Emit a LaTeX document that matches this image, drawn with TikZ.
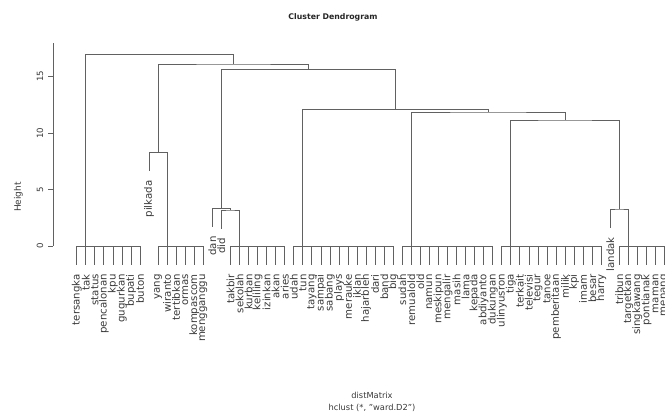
\documentclass[tikz,border=0pt]{standalone}
\usepackage{fontspec}
\setmainfont{DejaVu Sans}
\begin{document}
\begin{tikzpicture}[x=1pt,y=-1pt,
  dline/.style={draw=black!62, line width=0.75pt},
  leaflbl/.style={rotate=90, anchor=east, inner sep=0pt, text=black!78, font=\fontsize{10.2}{10.2}\selectfont},
  axlbl/.style={rotate=90, inner sep=0pt, text=black!78, font=\fontsize{8.6}{8.6}\selectfont},
  titlelbl/.style={inner sep=0pt, text=black!85, font=\bfseries\fontsize{7.8}{7.8}\selectfont},
  sublbl/.style={inner sep=0pt, text=black!78, font=\fontsize{8.3}{8.3}\selectfont}]
\useasboundingbox (0,0) rectangle (665,415);

% leaves: name / top y (merge height of their parent)
\foreach \w/\t [count=\i from 0] in {
  tersangka/246, tak/246, status/246, pencalonan/246, kpu/246, gugurkan/246, bupati/246, buton/246,
  pilkada/152.3,
  yang/246, wiranto/246, tertibkan/246, ormas/246, kompascom/246, mengganggu/246,
  dan/208.3, did/210,
  takbir/246, sekolah/246, kurban/246, keliling/246, izinkan/246, akan/246, aries/246,
  udah/246, tun/246, tayang/246, sampai/246, sabang/246, plays/246, merauke/246, iklan/246, hajarbleh/246, dari/246, band/246, big/246,
  sudah/246, remualold/246, old/246, namun/246, meskipun/246, mengalir/246, masih/246, lama/246, kepada/246, abdiyanto/246, dukungan/246,
  ulinyusron/246, tiga/246, terkait/246, televisi/246, tegur/246, tanoe/246, pemberitaan/246, milik/246, kpi/246, imam/246, besar/246, harry/246,
  landak/209,
  tribun/246, targetkan/246, singkawang/246, pontianak/246, maman/246, menang/246}
{
  \coordinate (T\i) at ({76.7+9.044*\i},\t);
  \coordinate (E\i) at ({76.7+9.044*\i},\t+19);
  \draw[dline] (T\i) -- (E\i);
  \node[leaflbl] (N\i) at ({76.7+9.044*\i},\t+28) {\w};
}

% groups merged at height 0
\draw[dline] (T0) -- (T7);
\draw[dline] (T9) -- (T14);
\draw[dline] (T17) -- (T23);
\draw[dline] (T24) -- (T35);
\draw[dline] (T36) -- (T46);
\draw[dline] (T47) -- (T58);
\draw[dline] (T60) -- (T65);

% merge points
\coordinate (P)  at (158.1,152.3);
\coordinate (D1) at (230.45,210);
\coordinate (D2) at (221.4,208.3);
\coordinate (Z)  at (619.34,209);
\coordinate (Y)  at (565.08,120);
\coordinate (X)  at (488.2,112);
\coordinate (A)  at (395.5,109.5);
\coordinate (M3) at (308.45,69.3);
\coordinate (M2) at (233.28,64);
\coordinate (M1) at (159.51,54.3);

\draw[dline] (T8) |- (P) -| (T10);
\draw[dline] (T16) |- (D1) -| (T18);
\draw[dline] (T15) |- (D2) -| (D1);
\draw[dline] (T59) |- (Z) -| (T61);
\draw[dline] (T48) |- (Y) -| (Z);
\draw[dline] (T37) |- (X) -| (Y);
\draw[dline] (T25) |- (A) -| (X);
\draw[dline] (D2) |- (M3) -| (A);
\draw[dline] (P) |- (M2) -| (M3);
\draw[dline] (T1) |- (M1) -| (M2);

% axis
\draw[dline] (53.3,43.3) -- (53.3,246);
\foreach \v/\y in {0/246, 5/189.5, 10/133, 15/76.5} {
  \draw[dline] (48,\y) -- (53.3,\y);
  \node[axlbl] (tk\v) at (40,\y) {\v};
}
\node[axlbl, font=\fontsize{9}{9}\selectfont] (ylab) at (18.3,197) {Height};

% titles
\node[titlelbl] (title) at (333,17) {Cluster Dendrogram};
\node[sublbl] (xlab) at (372,395) {distMatrix};
\node[sublbl] (sub) at (372,407.5) {hclust (*, "ward.D2")};
\end{tikzpicture}
\end{document}
